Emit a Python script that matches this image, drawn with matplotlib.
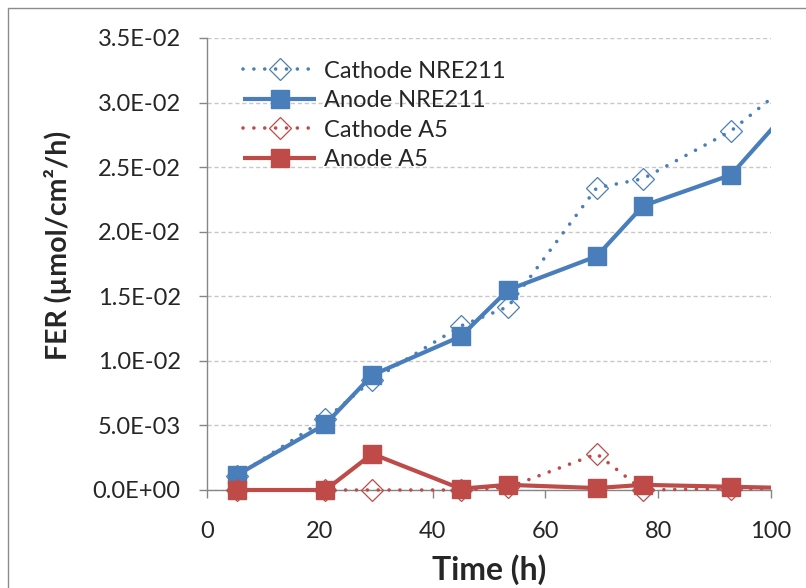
import numpy as np
import matplotlib
matplotlib.use("Agg")
import matplotlib.pyplot as plt
from matplotlib.patches import Rectangle
from matplotlib.ticker import FuncFormatter

# ---- data ----
time_h = [5.3, 21.0, 29.3, 45.0, 53.4, 69.1, 77.3, 92.9, 109.0]
cathode_nre211 = [1.1e-3, 5.5e-3, 8.5e-3, 1.27e-2, 1.42e-2, 2.34e-2, 2.41e-2, 2.78e-2, 3.35e-2]
anode_nre211 = [1.16e-3, 5.1e-3, 8.9e-3, 1.19e-2, 1.55e-2, 1.81e-2, 2.20e-2, 2.44e-2, 3.23e-2]
cathode_a5 = [0.0, 0.0, 0.0, 0.0, 2.0e-4, 2.8e-3, 0.0, 1.0e-4, 1.0e-4]
anode_a5 = [0.0, 0.0, 2.8e-3, 1.0e-4, 4.0e-4, 1.5e-4, 4.0e-4, 2.5e-4, 1.0e-4]

series_names = ["Cathode NRE211", "Anode NRE211", "Cathode A5", "Anode A5"]
x_ticks = [0, 20, 40, 60, 80, 100]
y_ticks = [0.0, 0.005, 0.010, 0.015, 0.020, 0.025, 0.030, 0.035]

BLUE = "#4A7EBB"
RED = "#BE4B48"
TEXT = "#262626"
FONT = "Lato"

plt.rcParams['font.family'] = [FONT, 'DejaVu Sans']

fig = plt.figure(figsize=(8.06, 5.88), dpi=100)
ax = fig.add_axes([207/806, 1-490/588, (771-207)/806, (490-38)/588])

# chart-area border
fig.add_artist(Rectangle((8/806, -0.1), 1.2, 1 - 8/588 + 0.1, transform=fig.transFigure,
                         fill=False, edgecolor="#8C8C8C", linewidth=1.0))

dot_style = dict(linestyle=(0, (0.01, 3.0)), linewidth=2.6, dash_capstyle="round")
solid_style = dict(linestyle="-", linewidth=3.0, solid_capstyle="butt")

l1, = ax.plot(time_h, cathode_nre211, color=BLUE, marker="D", markersize=11,
              markerfacecolor="none", markeredgecolor=BLUE, markeredgewidth=0.9,
              label=series_names[0], **dot_style)
l2, = ax.plot(time_h, anode_nre211, color=BLUE, marker="s", markersize=13.5,
              markerfacecolor=BLUE, markeredgecolor=BLUE, label=series_names[1], **solid_style)
l3, = ax.plot(time_h, cathode_a5, color=RED, marker="D", markersize=11,
              markerfacecolor="none", markeredgecolor=RED, markeredgewidth=0.9,
              label=series_names[2], **dot_style)
l4, = ax.plot(time_h, anode_a5, color=RED, marker="s", markersize=13.5,
              markerfacecolor=RED, markeredgecolor=RED, label=series_names[3], **solid_style)

for ln in (l1, l2, l3, l4):
    clip = Rectangle((-0.1, -0.1), 1.1, 1.2, transform=ax.transAxes)
    ln.set_clip_path(clip)

ax.set_xlim(0, 100)
ax.set_ylim(0, 0.035)
ax.set_xticks(x_ticks)
ax.set_yticks(y_ticks)
ax.yaxis.set_major_formatter(FuncFormatter(lambda v, p: f"{v:.1E}"))

for s in ("top", "right"):
    ax.spines[s].set_visible(False)
for s in ("left", "bottom"):
    ax.spines[s].set_color("#868686")
    ax.spines[s].set_linewidth(1.0)
    ax.spines[s].set_zorder(1)

ax.tick_params(axis="both", direction="out", length=6, width=1.0, color="#868686",
               labelsize=17, labelcolor=TEXT)
ax.tick_params(axis="y", pad=13)
ax.tick_params(axis="x", pad=16)

ax.yaxis.grid(True, color="#C8C8C8", linestyle=(0, (3, 2)), linewidth=1.0)
ax.set_axisbelow(True)

ax.set_xlabel("Time (h)", fontsize=23, fontweight="bold", color=TEXT, labelpad=9)
ax.set_ylabel("FER (µmol/cm²/h)", fontsize=20.5, fontweight="bold", color=TEXT)
ax.yaxis.set_label_coords((72 - 207) / 564, (490 - 245) / 452)

leg = ax.legend(loc="upper left", bbox_to_anchor=(0.064, 0.95), frameon=False,
                fontsize=17, handlelength=3.1, handletextpad=0.34, labelspacing=0.36,
                borderaxespad=0, borderpad=0)
for t in leg.get_texts():
    t.set_color(TEXT)

fig.savefig("out.png", dpi=100)
